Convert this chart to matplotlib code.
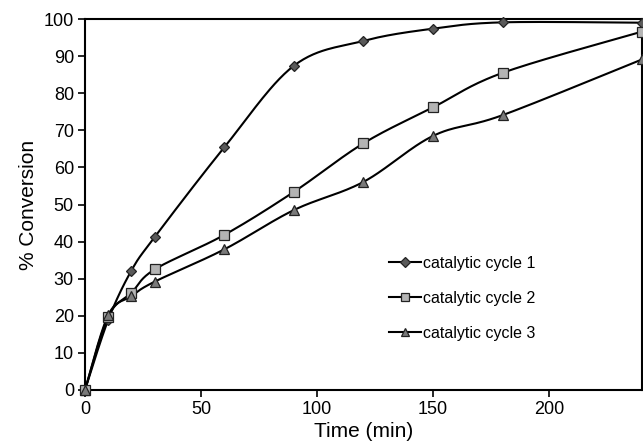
import numpy as np
from matplotlib import pyplot as plt

plt.rcParams["font.family"] = ["Liberation Sans", "DejaVu Sans"]

time_min = [0, 10, 20, 30, 60, 90, 120, 150, 180, 240]
cycle_1 = [0, 18.9, 32.2, 41.2, 65.4, 87.4, 94.1, 97.4, 99.1, 99.0]
cycle_2 = [0, 19.8, 26.2, 32.5, 41.8, 53.4, 66.5, 76.2, 85.5, 96.6]
cycle_3 = [0, 20.2, 25.3, 29.2, 37.9, 48.5, 56.1, 68.5, 74.1, 89.1]
labels = ["catalytic cycle 1", "catalytic cycle 2", "catalytic cycle 3"]

X_MAX, Y_MAX = 240, 100


def smooth(xs, ys, n=30):
    # catmull-rom through the points, worked out in axes-fraction space
    # (scaled by the box aspect) so the curve shape follows what is drawn
    sx, sy = 557.0 / X_MAX, 371.0 / Y_MAX
    p = np.column_stack([np.asarray(xs) * sx, np.asarray(ys) * sy])
    p = np.vstack([p[0], p, p[-1]])
    out = [p[1]]
    for i in range(1, len(p) - 2):
        p0, p1, p2, p3 = p[i - 1], p[i], p[i + 1], p[i + 2]
        t = np.linspace(0, 1, n)[1:, None]
        c1 = p1 + (p2 - p0) / 6.0
        c2 = p2 - (p3 - p1) / 6.0
        seg = ((1 - t) ** 3 * p1 + 3 * (1 - t) ** 2 * t * c1
               + 3 * (1 - t) * t ** 2 * c2 + t ** 3 * p2)
        out.extend(seg)
    out = np.array(out)
    return out[:, 0] / sx, out[:, 1] / sy


fig = plt.figure(figsize=(6.43, 4.45), dpi=100)
ax = fig.add_axes([85 / 643, 1 - 390 / 445, 557 / 643, 371 / 445])

styles = [
    dict(marker="D", ms=5.5, mfc="#5a5a5a"),
    dict(marker="s", ms=7.5, mfc="#b4b4b4"),
    dict(marker="^", ms=7, mfc="#7a7a7a"),
]
for ys, lab, st in zip([cycle_1, cycle_2, cycle_3], labels, styles):
    cx, cy = smooth(time_min, ys)
    ax.plot(cx, cy, color="black", lw=1.5, zorder=2, clip_on=False)
    ax.plot(time_min, ys, ls="none", mec="#222222", mew=0.9, zorder=3,
            clip_on=False, **st)
    # proxy handle for the legend: short line with the marker in the middle
    ax.plot([], [], color="black", lw=1.5, mec="#222222", mew=0.9,
            label=lab, **st)

ax.set_xlim(0, X_MAX)
ax.set_ylim(0, Y_MAX)
ax.set_xticks([0, 50, 100, 150, 200])
ax.set_yticks(range(0, 101, 10))
ax.tick_params(direction="out", length=5, width=1.2, labelsize=13,
               colors="black", pad=3)
for s in ax.spines.values():
    s.set_linewidth(1.5)

ax.set_xlabel("Time (min)", fontsize=15, labelpad=3)
ax.set_ylabel("% Conversion", fontsize=15, labelpad=4)

ax.legend(loc="upper left", bbox_to_anchor=(0.52, 0.40), frameon=False,
          fontsize=11.5, handlelength=2.0, handletextpad=0.15,
          labelspacing=1.25, markerscale=0.85)

fig.savefig("out.png", dpi=100)
